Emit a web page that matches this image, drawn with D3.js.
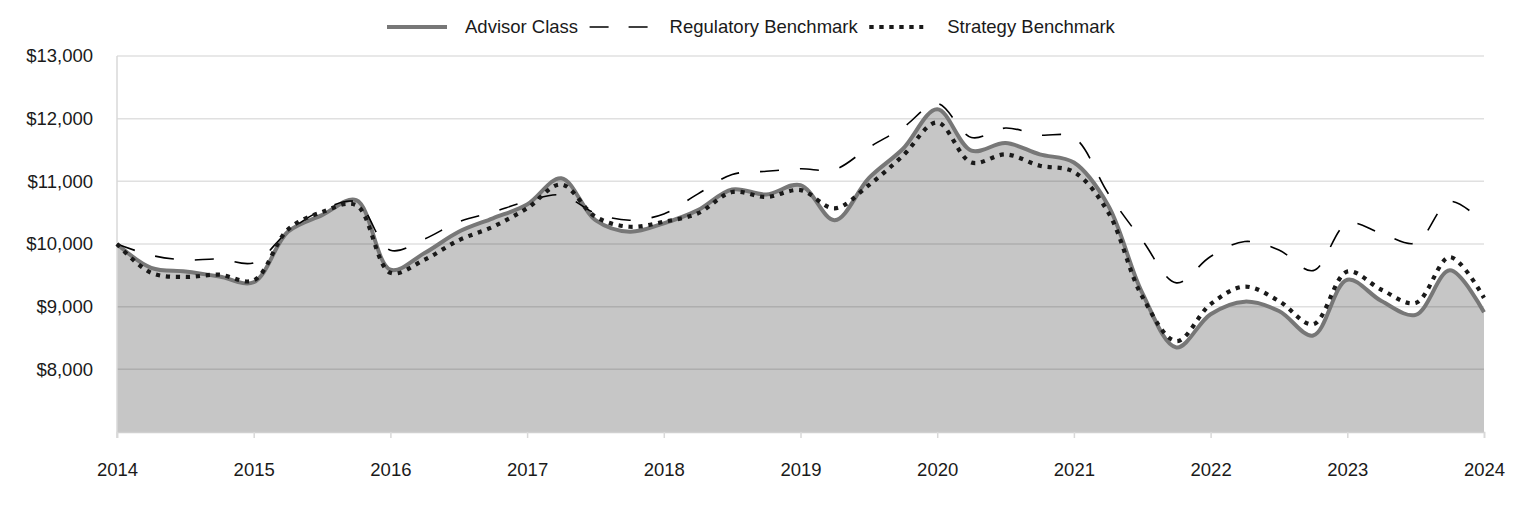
<!DOCTYPE html>
<html>
<head>
<meta charset="utf-8">
<script src="https://cdn.jsdelivr.net/npm/d3@7"></script>
<style>
  html, body { margin: 0; padding: 0; background: #fff; }
  svg { display: block; font-family: "Liberation Sans", Arial, sans-serif; }
</style>
</head>
<body>
<svg id="chart" width="1524" height="516"></svg>
<script>
// ---- Data (quarterly values) ----
const periods = [
  2014.00, 2014.25, 2014.50, 2014.75,
  2015.00, 2015.25, 2015.50, 2015.75,
  2016.00, 2016.25, 2016.50, 2016.75,
  2017.00, 2017.25, 2017.50, 2017.75,
  2018.00, 2018.25, 2018.50, 2018.75,
  2019.00, 2019.25, 2019.50, 2019.75,
  2020.00, 2020.25, 2020.50, 2020.75,
  2021.00, 2021.25, 2021.50, 2021.75,
  2022.00, 2022.25, 2022.50, 2022.75,
  2023.00, 2023.25, 2023.50, 2023.75,
  2024.00
];
const advisorClass = [
  10000, 9620, 9560, 9480,
  9390, 10195, 10460, 10700,
  9590, 9855, 10195, 10410,
  10630, 11050, 10380, 10195,
  10330, 10540, 10870, 10790,
  10940, 10380, 11050, 11520,
  12150, 11490, 11610, 11430,
  11300, 10620, 9220, 8350,
  8880, 9080, 8930, 8540,
  9430, 9090, 8870, 9580,
  8910
];
const regulatoryBenchmark = [
  10000, 9820, 9745, 9760,
  9700, 10195, 10540, 10670,
  9900, 10080, 10355, 10510,
  10680, 10780, 10490, 10380,
  10480, 10800, 11110, 11160,
  11200, 11190, 11540, 11860,
  12240, 11700, 11850, 11740,
  11700, 10810, 10060, 9380,
  9800, 10040, 9905, 9575,
  10330, 10170, 10015, 10680,
  10330
];
const strategyBenchmark = [
  10000, 9540, 9475, 9510,
  9420, 10230, 10510, 10620,
  9540, 9750, 10060, 10275,
  10570, 10950, 10435, 10275,
  10355, 10490, 10830, 10750,
  10860, 10570, 10940, 11410,
  11940, 11300, 11430, 11250,
  11150, 10510, 9160, 8450,
  9040, 9320, 9090, 8720,
  9560, 9270, 9060, 9790,
  9140
];
const xTickLabels = ["2014","2015","2016","2017","2018","2019","2020","2021","2022","2023","2024"];
const yTickValues = [8000, 9000, 10000, 11000, 12000, 13000];
const seriesNames = ["Advisor Class", "Regulatory Benchmark", "Strategy Benchmark"];

(function () {
// ---- Layout ----
const svg = d3.select("#chart");
const pLeft = 117, pRight = 1484, pTop = 56, pBottom = 432;
const FONT = 18.5;

const x = d3.scaleLinear().domain([2014, 2024]).range([pLeft, pRight]);
const y = d3.scaleLinear().domain([7000, 13000]).range([pBottom, pTop]);

// gridlines
svg.append("g")
  .selectAll("line")
  .data(yTickValues)
  .join("line")
  .attr("x1", pLeft).attr("x2", pRight)
  .attr("y1", d => y(d)).attr("y2", d => y(d))
  .attr("stroke", "#e0e0e0").attr("stroke-width", 1.5);

// y axis labels
const yAxis = d3.axisLeft(y).tickValues(yTickValues)
  .tickFormat(d => "$" + d3.format(",")(d)).tickSize(0).tickPadding(0);
const gy = svg.append("g").attr("transform", `translate(93,0)`).call(yAxis);
gy.select(".domain").remove();
gy.selectAll("text").attr("font-size", FONT).attr("fill", "#1a1a1a")
  .attr("font-family", "'Liberation Sans', Arial, sans-serif");

const curve = d3.curveCatmullRom.alpha(0.5);
const pts = (vals) => periods.map((p, i) => [p, vals[i]]);

// area under advisor class
svg.append("path")
  .datum(pts(advisorClass))
  .attr("d", d3.area().x(d => x(d[0])).y0(pBottom).y1(d => y(d[1])).curve(curve))
  .attr("fill", "#000").attr("fill-opacity", 0.225);

// left axis line
svg.append("line").attr("x1", pLeft).attr("x2", pLeft).attr("y1", pTop).attr("y2", pBottom + 6)
  .attr("stroke", "#d9d9d9").attr("stroke-width", 1.5);

// x axis
const xAxis = d3.axisBottom(x)
  .tickValues(xTickLabels.map(Number))
  .tickFormat((d, i) => xTickLabels[i])
  .tickSize(6).tickPadding(25);
const gx = svg.append("g").attr("transform", `translate(0,${pBottom})`).call(xAxis);
gx.select(".domain").attr("stroke", "#d0d0d0").attr("stroke-width", 1.5);
gx.selectAll(".tick line").attr("stroke", "#d9d9d9").attr("stroke-width", 1.5);
gx.selectAll("text").attr("font-size", FONT).attr("fill", "#1a1a1a")
  .attr("font-family", "'Liberation Sans', Arial, sans-serif");

const lineGen = d3.line().x(d => x(d[0])).y(d => y(d[1])).curve(curve);

const styles = [
  { stroke: "#777777", width: 4, dash: null },
  { stroke: "#000000", width: 1.6, dash: "19,21" },
  { stroke: "#1a1a1a", width: 4.2, dash: "4.2,5.8" }
];
const seriesValues = [advisorClass, regulatoryBenchmark, strategyBenchmark];

seriesValues.forEach((vals, i) => {
  const p = svg.append("path")
    .datum(pts(vals))
    .attr("d", lineGen)
    .attr("fill", "none")
    .attr("stroke", styles[i].stroke)
    .attr("stroke-width", styles[i].width)
    .attr("stroke-linejoin", "round");
  if (styles[i].dash) p.attr("stroke-dasharray", styles[i].dash);
});

// legend
const legend = svg.append("g");
const legendY = 27;
const symLens = [60, 58, 54];
let lx = 387;
seriesNames.forEach((name, i) => {
  const s = legend.append("line")
    .attr("x1", lx).attr("x2", lx + symLens[i])
    .attr("y1", legendY).attr("y2", legendY)
    .attr("stroke", styles[i].stroke)
    .attr("stroke-width", styles[i].width);
  if (i === 1) s.attr("stroke-dasharray", "19,20");
  if (i === 2) s.attr("stroke-dasharray", "4.4,5.6");
  const gapText = [18, 22, 24][i];
  const t = legend.append("text")
    .attr("x", lx + symLens[i] + gapText)
    .attr("y", legendY)
    .attr("dy", "0.35em")
    .attr("font-size", FONT)
    .attr("fill", "#1a1a1a")
    .text(name);
  lx = lx + symLens[i] + gapText + t.node().getComputedTextLength() + 11.5;
});
})();
</script>
</body>
</html>
